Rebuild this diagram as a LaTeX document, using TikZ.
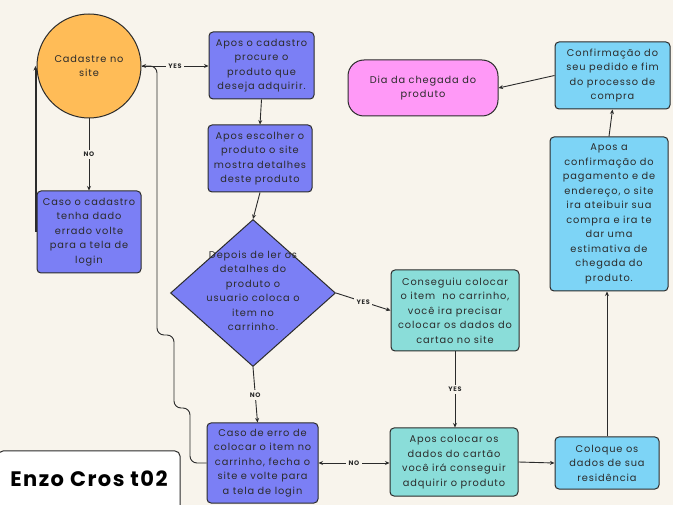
\documentclass[tikz,border=0pt]{standalone}
\usepackage{fontspec}
\setmainfont{Poppins}[LetterSpace=9]
\newfontfamily\titulo{Poppins}[LetterSpace=7]
\usepackage{xcolor}
\usepackage{tikz}
\usetikzlibrary{arrows.meta, shapes.geometric}
\definecolor{papel}{HTML}{F8F4EC}
\definecolor{laranja}{HTML}{FFBC57}
\definecolor{roxo}{HTML}{7B7FF5}
\definecolor{verde}{HTML}{8ADDD9}
\definecolor{azul}{HTML}{7DD4F6}
\definecolor{rosa}{HTML}{FF99F7}
\definecolor{tinta}{HTML}{2B2B2B}

\begin{document}
\begin{tikzpicture}[x=1pt, y=-1pt,
    caixa/.style={draw=tinta, line width=1pt, rounded corners=4pt, align=center, inner sep=1pt,
        text=tinta, font=\fontsize{9.8}{14.5}\selectfont},
    seta/.style={draw=tinta, line width=0.9pt, -{Stealth[length=4.5pt,width=4pt]}},
    rotulo/.style={fill=papel, inner sep=2.5pt, text=tinta, font=\fontsize{6.5}{7}\selectfont\bfseries}]
    \fill[papel] (0,0) rectangle (673,505);
    \useasboundingbox (0,0) rectangle (673,505);
    \clip (0,0) rectangle (673,505);
    \node[circle, draw=tinta, line width=1pt, fill=laranja, minimum size=104pt, align=center, text=tinta,
        font=\fontsize{9.8}{14.5}\selectfont] (cad) at (89,66) {Cadastre no\\site};
    \node[caixa, fill=roxo, minimum width=105pt, minimum height=67pt] (procura) at (261.5,65.5)
        {Apos o cadastro\\procure o\\produto que\\deseja adquirir.};
    \node[caixa, fill=roxo, minimum width=104pt, minimum height=67pt] (detalhes) at (260,158.5)
        {Apos escolher o\\produto o site\\mostra detalhes\\deste produto};
    \node[caixa, fill=roxo, minimum width=104pt, minimum height=82pt] (erroCad) at (89,232)
        {Caso o cadastro\\tenha dado\\errado volte\\para a tela de\\login};
    \node[diamond, draw=tinta, line width=1pt, fill=roxo, minimum width=165pt, minimum height=147pt,
        inner sep=0pt] (decide) at (253,293) {};
    \node[align=center, text=tinta, font=\fontsize{9.8}{14.5}\selectfont] (decideTxt) at (253,291)
        {Depois de ler os\\detalhes do\\produto o\\usuario coloca o\\item no\\carrinho.};
    \node[caixa, fill=roxo, minimum width=111pt, minimum height=80pt] (erroItem) at (262.5,463)
        {Caso de erro de\\colocar o item no\\carrinho, fecha o\\site e volte para\\a tela de login};
    \node[draw=tinta, line width=1pt, rounded corners=5pt, fill=white, minimum width=182pt,
        minimum height=60pt, font=\titulo\fontsize{21}{24}\selectfont\bfseries, text=black] (enzo) at (89,481)
        {\raisebox{5pt}{Enzo Cros t02}};
    \node[caixa, fill=verde, minimum width=128pt, minimum height=81pt] (conseguiu) at (455,310.5)
        {Conseguiu colocar\\o item\ \ no carrinho,\\você ira precisar\\colocar os dados do\\cartao no site};
    \node[caixa, fill=verde, minimum width=128pt, minimum height=68pt] (aposCartao) at (454,462)
        {Apos colocar os\\dados do cartão\\você irá conseguir\\adquirir o produto};
    \node[caixa, fill=azul, minimum width=104pt, minimum height=52pt] (residencia) at (607,463)
        {Coloque os\\dados de sua\\residência};
    \node[caixa, fill=azul, minimum width=118pt, minimum height=154pt] (pagamento) at (609,214)
        {Apos a\\confirmação do\\pagamento e de\\endereço, o site\\ira ateibuir sua\\compra e ira te\\dar uma\\estimativa de\\chegada do\\produto.};
    \node[caixa, fill=azul, minimum width=115pt, minimum height=67pt] (confirma) at (612.5,75.5)
        {Confirmação do\\seu pedido e fim\\do processo de\\compra};
    \node[caixa, fill=rosa, rounded corners=16pt, minimum width=150pt, minimum height=56pt] (chegada) at (423,88)
        {Dia da chegada do\\produto};
    \draw[seta] (cad.east) -- node[rotulo]{YES} (cad.east -| procura.west);
    \draw[seta, rounded corners=7pt] (erroItem.west) -- (190,463) -- (190,408) -- (174,408)
        -- (174,335) -- (157,335) -- (157,66) -- (cad.east);
    \draw[seta] (cad.south) -- node[rotulo]{NO} (erroCad.north);
    \draw[seta, line width=2pt] ([xshift=-1pt]erroCad.west) -- ([xshift=-1pt]erroCad.west |- cad.west);
    \draw[seta] (procura.south) -- (detalhes.north);
    \draw[seta] (detalhes.south) -- (decide.north);
    \draw[seta] (decide.east) -- node[rotulo]{YES} (conseguiu.west);
    \draw[seta] (decide.south) -- node[rotulo]{NO} ([xshift=-5pt]erroItem.north);
    \draw[seta] (conseguiu.south) -- node[rotulo]{YES} (conseguiu.south |- aposCartao.north);
    \draw[seta, {Stealth[length=4.5pt,width=4pt]}-{Stealth[length=4.5pt,width=4pt]}] (erroItem.east) -- node[rotulo]{NO} (erroItem.east -| aposCartao.west);
    \draw[seta] (aposCartao.east) -- (residencia.west);
    \draw[seta] (residencia.north) -- (residencia.north |- pagamento.south);
    \draw[seta] (pagamento.north) -- (confirma.south);
    \draw[seta] (confirma.west) -- (chegada.east);
\end{tikzpicture}
\end{document}
